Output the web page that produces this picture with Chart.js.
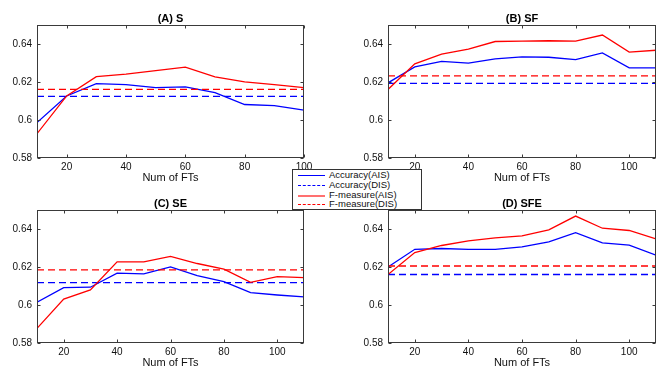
<!DOCTYPE html>
<html>
<head>
<meta charset="utf-8">
<script src="https://cdn.jsdelivr.net/npm/chart.js@4.4.1/dist/chart.umd.min.js"></script>
<style>
  body { margin:0; background:#fff; }
  #wrap { position:relative; width:665px; height:378px; overflow:hidden; background:#fff; }
  canvas { position:absolute; }
  #legend { position:absolute; left:292px; top:169px; width:128px; height:39px; background:#fff;
    border:1px solid #333; font-family:"Liberation Sans", Arial, sans-serif; font-size:9.5px; color:#111; }
  #legend .row { position:absolute; left:0; height:10px; width:128px; }
  #legend .ln { position:absolute; left:5px; width:27px; top:5px; height:0; }
  #legend .tx { position:absolute; left:36px; top:0; line-height:10px; white-space:nowrap; }
</style>
</head>
<body>
<div id="wrap">
  <canvas id="cA" width="320" height="190" style="left:0;top:0"></canvas>
  <canvas id="cB" width="314" height="190" style="left:351px;top:0"></canvas>
  <canvas id="cC" width="320" height="190" style="left:0;top:185px"></canvas>
  <canvas id="cD" width="314" height="190" style="left:351px;top:185px"></canvas>
  <div id="legend"></div>
</div>
<script>
// data
var panelTitles = ['(A) S', '(B) SF', '(C) SE', '(D) SFE'];
var ftsA = [10, 20, 30, 40, 50, 60, 70, 80, 90, 100];
var fts = [10, 20, 30, 40, 50, 60, 70, 80, 90, 100, 110];
var xTicks = [20, 40, 60, 80, 100];
var yTicks = [0.58, 0.6, 0.62, 0.64];

var accAisA = [0.5987, 0.6127, 0.6192, 0.6187, 0.6171, 0.6175, 0.6145, 0.6082, 0.6076, 0.6052];
var fmAisA  = [0.5928, 0.6127, 0.6229, 0.6242, 0.6261, 0.6279, 0.6228, 0.6201, 0.6187, 0.6171];
var accAisB = [0.6196, 0.6280, 0.6309, 0.6300, 0.6323, 0.6333, 0.6331, 0.6319, 0.6354, 0.6275, 0.6275];
var fmAisB  = [0.6161, 0.6296, 0.6347, 0.6374, 0.6414, 0.6416, 0.6418, 0.6416, 0.6448, 0.6358, 0.6368];
var accAisC = [0.6015, 0.6092, 0.6094, 0.6168, 0.6164, 0.6201, 0.6155, 0.6124, 0.6066, 0.6053, 0.6043];
var fmAisC  = [0.5877, 0.6031, 0.6080, 0.6228, 0.6228, 0.6257, 0.6219, 0.6189, 0.6120, 0.6150, 0.6145];
var accAisD = [0.6201, 0.6294, 0.6298, 0.6293, 0.6294, 0.6307, 0.6333, 0.6382, 0.6328, 0.6316, 0.6263];
var fmAisD  = [0.6161, 0.6277, 0.6314, 0.6338, 0.6354, 0.6365, 0.6396, 0.6469, 0.6405, 0.6393, 0.6349];
// DIS baselines, one per panel
var accDis = [0.6125, 0.6193, 0.6118, 0.6161];
var fmDis  = [0.6162, 0.6233, 0.6185, 0.6206];

var legendNames = ['Accuracy(AIS)', 'Accuracy(DIS)', 'F-measure(AIS)', 'F-measure(DIS)'];

Chart.defaults.font.family = '"Liberation Sans", Arial, sans-serif';
Chart.defaults.color = '#111';
Chart.defaults.animation = false;

var FRAME = '#3a3a3a';

var boxPlugin = {
  id: 'matlabBox',
  afterDatasetsDraw: function(chart) {
    var ctx = chart.ctx, a = chart.chartArea;
    var x = chart.scales.x, y = chart.scales.y;
    var l = Math.round(a.left) + 0.5, r = Math.round(a.right) - 0.5;
    var t = Math.round(a.top) + 0.5, b = Math.round(a.bottom) - 0.5;
    ctx.save();
    ctx.strokeStyle = FRAME;
    ctx.lineWidth = 1;
    ctx.strokeRect(l, t, r - l, b - t);
    ctx.beginPath();
    x.ticks.forEach(function(tk) {
      var px = Math.round(x.getPixelForValue(tk.value)) + 0.5;
      ctx.moveTo(px, b); ctx.lineTo(px, b - 3);
      ctx.moveTo(px, t); ctx.lineTo(px, t + 3);
    });
    y.ticks.forEach(function(tk) {
      var py = Math.round(y.getPixelForValue(tk.value)) + 0.5;
      ctx.moveTo(l, py); ctx.lineTo(l + 3, py);
      ctx.moveTo(r, py); ctx.lineTo(r - 3, py);
    });
    ctx.stroke();
    ctx.restore();
  }
};

function pts(xs, ys) {
  return xs.map(function(v, i) { return {x: v, y: ys[i]}; });
}

function makePanel(id, idx, xs, acc, fm, xmax) {
  var flatX = [10, xmax];
  var line = {borderWidth: 1.3, pointRadius: 0, fill: false, tension: 0};
  new Chart(document.getElementById(id), {
    type: 'line',
    data: {
      datasets: [
        Object.assign({label: legendNames[0], data: pts(xs, acc), borderColor: '#0000ff', order: 4}, line),
        Object.assign({label: legendNames[1], data: pts(flatX, [accDis[idx], accDis[idx]]), borderColor: '#0000ff', borderDash: [7, 4], order: 3}, line),
        Object.assign({label: legendNames[2], data: pts(xs, fm), borderColor: '#ff0000', order: 2}, line),
        Object.assign({label: legendNames[3], data: pts(flatX, [fmDis[idx], fmDis[idx]]), borderColor: '#ff0000', borderDash: [7, 4], order: 1}, line)
      ]
    },
    options: {
      responsive: false,
      layout: {padding: {left: 0, top: 0, right: id === 'cA' || id === 'cC' ? 16 : 9, bottom: 0}},
      plugins: {
        legend: {display: false},
        tooltip: {enabled: false},
        title: {display: true, text: panelTitles[idx], fullSize: false, color: '#000',
                font: {size: 11, weight: 'bold'}, padding: {top: 12, bottom: 0}}
      },
      scales: {
        x: {
          type: 'linear', min: 10, max: xmax,
          grid: {display: false, drawTicks: false}, border: {display: false},
          ticks: {font: {size: 10}, padding: 3, maxRotation: 0, autoSkip: false},
          afterBuildTicks: function(s) { s.ticks = xTicks.map(function(v) { return {value: v}; }); },
          afterFit: function(s) { s.height = 32; },
          title: {display: true, text: 'Num of FTs', font: {size: 11}, color: '#111', padding: {top: 0, bottom: 5}}
        },
        y: {
          type: 'linear', min: 0.58, max: 0.65,
          grid: {display: false, drawTicks: false}, border: {display: false},
          ticks: {font: {size: 10}, padding: 5, callback: function(v) { return String(+v.toFixed(2)); }},
          afterBuildTicks: function(s) { s.ticks = yTicks.map(function(v) { return {value: v}; }); },
          afterFit: function(s) { s.width = 37; }
        }
      }
    },
    plugins: [boxPlugin]
  });
}

makePanel('cA', 0, ftsA, accAisA, fmAisA, 100);
makePanel('cB', 1, fts, accAisB, fmAisB, 110);
makePanel('cC', 2, fts, accAisC, fmAisC, 110);
makePanel('cD', 3, fts, accAisD, fmAisD, 110);

// shared legend box in the middle
var styles = ['1px solid #0000ff', '1px dashed #0000ff', '2px solid #ff7070', '1px dashed #ff0000'];
var tops = [0, 10, 20, 29];
var lg = document.getElementById('legend');
legendNames.forEach(function(name, i) {
  var row = document.createElement('div');
  row.className = 'row';
  row.style.top = tops[i] + 'px';
  row.innerHTML = '<span class="ln" style="border-top:' + styles[i] + '"></span><span class="tx">' + name + '</span>';
  lg.appendChild(row);
});
</script>
</body>
</html>
